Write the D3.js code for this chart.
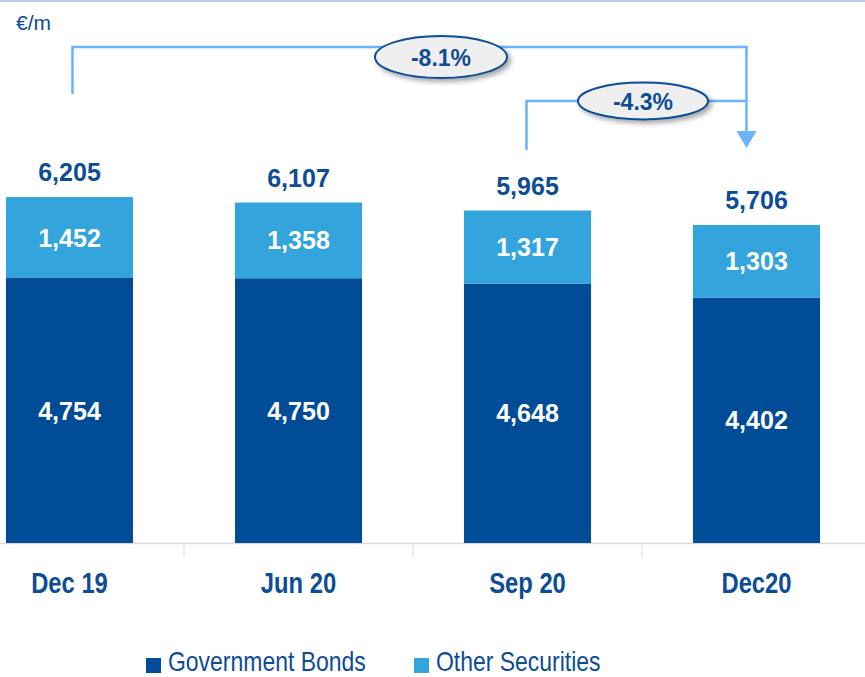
<!DOCTYPE html>
<html>
<head>
<meta charset="utf-8">
<script src="https://cdn.jsdelivr.net/npm/d3@7"></script>
<style>
  body { margin: 0; background: #fff; }
  svg text { font-family: "Liberation Sans", Arial, sans-serif; }
</style>
</head>
<body>
<script>
// data
var categories = ["Dec 19", "Jun 20", "Sep 20", "Dec20"];
var govBonds = [4754, 4750, 4648, 4402];
var otherSecurities = [1452, 1358, 1317, 1303];
var totals = [6205, 6107, 5965, 5706];
var seriesNames = ["Government Bonds", "Other Securities"];
var changeLabels = ["-8.1%", "-4.3%"];

var width = 865, height = 677;
var darkBlue = "#004c97", lightBlue = "#33a4dc", textBlue = "#0d4d96", arrowBlue = "#6ab4fb";
var narrow = 0.82; // no narrow font installed, squeeze instead

var svg = d3.select("body").append("svg")
    .attr("width", width)
    .attr("height", height);

var defs = svg.append("defs");
var filt = defs.append("filter").attr("id", "shadow")
    .attr("x", "-20%").attr("y", "-30%").attr("width", "150%").attr("height", "180%");
filt.append("feDropShadow")
    .attr("dx", 3).attr("dy", 3).attr("stdDeviation", 2.5)
    .attr("flood-color", "#000").attr("flood-opacity", 0.35);

var x = d3.scaleBand()
    .domain(categories)
    .range([-45, 871])
    .paddingInner(0.445)
    .paddingOuter(0.2225);

var baseY = 543;
var y = d3.scaleLinear()
    .domain([0, 7000])
    .range([baseY, baseY - 0.05574 * 7000]);

// top thin rule
svg.append("line")
    .attr("x1", 0).attr("x2", width)
    .attr("y1", 1).attr("y2", 1)
    .attr("stroke", "#b9cce6").attr("stroke-width", 2);

// unit
svg.append("text")
    .attr("x", 16).attr("y", 30)
    .attr("font-size", 21)
    .attr("fill", textBlue)
    .text("€/m");

var rows = categories.map(function(c, i) {
    return {cat: c, gov: govBonds[i], other: otherSecurities[i], total: totals[i]};
});

// axis line + boundary ticks
svg.append("line")
    .attr("x1", 0).attr("x2", width)
    .attr("y1", baseY + 0.5).attr("y2", baseY + 0.5)
    .attr("stroke", "#d9d9d9").attr("stroke-width", 1.5);

svg.selectAll(".sep")
    .data(categories.slice(1))
    .enter().append("line")
    .attr("class", "sep")
    .attr("x1", function(d) { return x(d) - x.step() * x.paddingInner() / 2; })
    .attr("x2", function(d) { return x(d) - x.step() * x.paddingInner() / 2; })
    .attr("y1", baseY).attr("y2", baseY + 14)
    .attr("stroke", "#d9d9d9").attr("stroke-width", 1);

var g = svg.selectAll(".bar")
    .data(rows)
    .enter().append("g")
    .attr("class", "bar")
    .attr("transform", function(d) { return "translate(" + x(d.cat) + ",0)"; });

g.append("rect")
    .attr("width", x.bandwidth())
    .attr("y", function(d) { return y(d.gov); })
    .attr("height", function(d) { return y(0) - y(d.gov); })
    .attr("fill", darkBlue);

g.append("rect")
    .attr("width", x.bandwidth())
    .attr("y", function(d) { return y(d.gov + d.other); })
    .attr("height", function(d) { return y(d.gov) - y(d.gov + d.other); })
    .attr("fill", lightBlue);

var fmt = d3.format(",");

g.append("text")
    .attr("x", x.bandwidth() / 2)
    .attr("y", function(d) { return (y(0) + y(d.gov)) / 2 + 9; })
    .attr("text-anchor", "middle")
    .attr("font-size", 25).attr("font-weight", "bold")
    .attr("fill", "#fff")
    .text(function(d) { return fmt(d.gov); });

g.append("text")
    .attr("x", x.bandwidth() / 2)
    .attr("y", function(d) { return (y(d.gov) + y(d.gov + d.other)) / 2 + 9; })
    .attr("text-anchor", "middle")
    .attr("font-size", 25).attr("font-weight", "bold")
    .attr("fill", "#fff")
    .text(function(d) { return fmt(d.other); });

g.append("text")
    .attr("x", x.bandwidth() / 2)
    .attr("y", function(d) { return y(d.total) - 16; })
    .attr("text-anchor", "middle")
    .attr("font-size", 25).attr("font-weight", "bold")
    .attr("fill", textBlue)
    .text(function(d) { return fmt(d.total); });

// category labels
svg.selectAll(".cat")
    .data(categories)
    .enter().append("text")
    .attr("class", "cat")
    .attr("transform", function(d) {
        return "translate(" + (x(d) + x.bandwidth() / 2) + ",593) scale(" + narrow + ",1)";
    })
    .attr("text-anchor", "middle")
    .attr("font-size", 29).attr("font-weight", "bold")
    .attr("fill", textBlue)
    .text(function(d) { return d; });

// change brackets
var cx = function(c) { return x(c) + x.bandwidth() / 2; };
var xA = cx(categories[0]) + 3, xB = cx(categories[2]) - 1, xEnd = cx(categories[3]) - 10;
var ann = svg.append("g")
    .attr("fill", "none")
    .attr("stroke", arrowBlue)
    .attr("stroke-width", 2.5);
ann.append("path").attr("d", "M" + xA + ",94V47H" + xEnd + "V134");
ann.append("path").attr("d", "M" + xB + ",150V101H" + xEnd);
svg.append("path")
    .attr("d", "M" + (xEnd - 10) + ",131L" + (xEnd + 10) + ",131L" + xEnd + ",148Z")
    .attr("fill", arrowBlue);

var bubbles = [
    {label: changeLabels[0], x: 441, y: 57, rx: 66, ry: 21},
    {label: changeLabels[1], x: 643, y: 101, rx: 65, ry: 18.5}
];
var bub = svg.selectAll(".bub")
    .data(bubbles)
    .enter().append("g")
    .attr("class", "bub");
bub.append("ellipse")
    .attr("cx", function(d) { return d.x; })
    .attr("cy", function(d) { return d.y; })
    .attr("rx", function(d) { return d.rx; })
    .attr("ry", function(d) { return d.ry; })
    .attr("fill", "#efefef")
    .attr("stroke", textBlue)
    .attr("stroke-width", 2)
    .attr("filter", "url(#shadow)");
bub.append("text")
    .attr("x", function(d) { return d.x; })
    .attr("y", function(d) { return d.y + 8.5; })
    .attr("text-anchor", "middle")
    .attr("font-size", 23).attr("font-weight", "bold")
    .attr("fill", textBlue)
    .text(function(d) { return d.label; });

// legend
var legend = [
    {name: seriesNames[0], color: darkBlue, x: 146},
    {name: seriesNames[1], color: lightBlue, x: 414}
];
var lg = svg.selectAll(".legend")
    .data(legend)
    .enter().append("g")
    .attr("class", "legend");
lg.append("rect")
    .attr("x", function(d) { return d.x; })
    .attr("y", 658)
    .attr("width", 15).attr("height", 15)
    .attr("fill", function(d) { return d.color; });
lg.append("text")
    .attr("transform", function(d) { return "translate(" + (d.x + 22) + ",671) scale(" + narrow + ",1)"; })
    .attr("font-size", 28)
    .attr("fill", textBlue)
    .text(function(d) { return d.name; });
</script>
</body>
</html>
